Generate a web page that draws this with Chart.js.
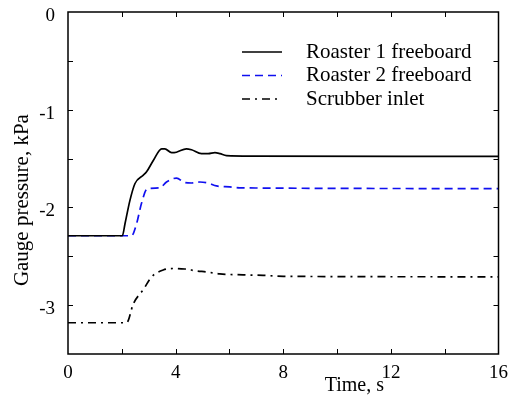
<!DOCTYPE html>
<html>
<head>
<meta charset="utf-8">
<script src="https://cdn.jsdelivr.net/npm/chart.js@4.4.1/dist/chart.umd.min.js"></script>
<style>
  html, body { margin: 0; padding: 0; background: #fff; }
  #wrap { width: 508px; height: 404px; }
</style>
</head>
<body>
<div id="wrap"><canvas id="chart" width="508" height="404"></canvas></div>
<script>
// series (time in s, gauge pressure in kPa)
const roaster1Time = [0, 2.02, 2.12, 2.3, 2.49, 2.8, 2.92, 3.17, 3.48, 3.6, 3.85, 4.03, 4.4, 4.59, 4.96, 5.21, 5.46, 5.65, 5.89, 6.88, 16]
const roaster1Pressure = [-2.29, -2.29, -2.165, -1.93, -1.755, -1.67, -1.636, -1.52, -1.4, -1.4, -1.44, -1.435, -1.4, -1.41, -1.45, -1.45, -1.44, -1.45, -1.47, -1.475, -1.478]

const roaster2Time = [0, 2.36, 2.55, 2.73, 2.94, 3.41, 3.66, 4.03, 4.34, 4.59, 4.9, 5.2, 5.52, 6.01, 6.38, 16]
const roaster2Pressure = [-2.29, -2.29, -2.165, -1.96, -1.81, -1.8, -1.74, -1.7, -1.745, -1.75, -1.74, -1.75, -1.78, -1.79, -1.8, -1.807]

const scrubberTime = [0, 2.18, 2.43, 2.8, 3.11, 3.54, 3.97, 4.34, 4.78, 5.15, 5.64, 6.51, 7.25, 8, 16]
const scrubberPressure = [-3.18, -3.18, -2.985, -2.84, -2.71, -2.64, -2.625, -2.63, -2.65, -2.66, -2.68, -2.69, -2.695, -2.705, -2.71]

const seriesLabels = ['Roaster 1 freeboard', 'Roaster 2 freeboard', 'Scrubber inlet']
const xTickLabels = [0, 4, 8, 12, 16]
const yTickLabels = [0, -1, -2, -3]

const toPoints = (xs, ys) => xs.map((x, i) => ({ x: x, y: ys[i] }))

const serif = 'Liberation Serif, Times New Roman, serif'

// box, inward ticks on all four sides, axis titles and the in-plot legend
const framePlugin = {
  id: 'frame',
  afterDraw(chart) {
    const { ctx, chartArea: a, scales } = chart
    const xs = scales.x, ys = scales.y
    const len = 5
    ctx.save()
    ctx.strokeStyle = '#000'
    ctx.lineWidth = 1.5
    ctx.strokeRect(a.left, a.top, a.right - a.left, a.bottom - a.top)
    ctx.lineWidth = 1
    ctx.beginPath()
    for (let v = 2; v < 16; v += 2) {
      const px = Math.round(xs.getPixelForValue(v)) + 0.5
      ctx.moveTo(px, a.bottom); ctx.lineTo(px, a.bottom - len)
      ctx.moveTo(px, a.top); ctx.lineTo(px, a.top + len)
    }
    for (let v = -3; v < 0; v += 0.5) {
      const py = Math.round(ys.getPixelForValue(v)) + 0.5
      ctx.moveTo(a.left, py); ctx.lineTo(a.left + len, py)
      ctx.moveTo(a.right, py); ctx.lineTo(a.right - len, py)
    }
    ctx.stroke()

    // axis titles
    ctx.fillStyle = '#000'
    ctx.font = '20px ' + serif
    ctx.textAlign = 'center'
    ctx.textBaseline = 'middle'
    ctx.fillText('Time, s', a.left + 0.665 * (a.right - a.left), a.bottom + 32)
    ctx.save()
    ctx.translate(22, a.top + 0.55 * (a.bottom - a.top))
    ctx.rotate(-Math.PI / 2)
    ctx.font = '21px ' + serif
    ctx.fillText('Gauge pressure, kPa', 0, 0)
    ctx.restore()

    // legend
    ctx.font = '21px ' + serif
    ctx.textAlign = 'left'
    chart.data.datasets.forEach((ds, i) => {
      const y = a.top + 40 + i * 23.5
      const x0 = a.left + 174
      ctx.strokeStyle = ds.borderColor
      ctx.lineWidth = ds.borderWidth
      ctx.setLineDash(ds.borderDash || [])
      ctx.beginPath()
      ctx.moveTo(x0, y); ctx.lineTo(x0 + 40, y)
      ctx.stroke()
      ctx.setLineDash([])
      ctx.fillText(ds.label, x0 + 64, y)
    })
    ctx.restore()
  }
}

new Chart(document.getElementById('chart'), {
  type: 'line',
  data: {
    datasets: [
      {
        label: seriesLabels[0],
        data: toPoints(roaster1Time, roaster1Pressure),
        borderColor: '#000',
        borderWidth: 1.7
      },
      {
        label: seriesLabels[1],
        data: toPoints(roaster2Time, roaster2Pressure),
        borderColor: '#1010f0',
        borderWidth: 1.7,
        borderDash: [8, 5]
      },
      {
        label: seriesLabels[2],
        data: toPoints(scrubberTime, scrubberPressure),
        borderColor: '#000',
        borderWidth: 1.7,
        borderDash: [8, 5, 2, 5]
      }
    ]
  },
  options: {
    responsive: false,
    animation: false,
    events: [],
    layout: { padding: { left: 0, right: 0, top: 0, bottom: 0 } },
    elements: {
      point: { radius: 0 },
      line: { cubicInterpolationMode: 'monotone', fill: false }
    },
    plugins: {
      legend: { display: false },
      tooltip: { enabled: false }
    },
    scales: {
      x: {
        type: 'linear',
        min: 0,
        max: 16,
        grid: { display: false },
        border: { display: false },
        afterFit: s => { s.height = 50 },
        ticks: {
          stepSize: 4,
          padding: 0,
          color: '#000',
          font: { family: serif, size: 19 },
          maxRotation: 0,
          callback: v => xTickLabels.includes(v) ? String(v) : ''
        }
      },
      y: {
        min: -3.5,
        max: 0,
        grid: { display: false },
        border: { display: false },
        afterFit: s => { s.width = 68; s.paddingTop = 12 },
        ticks: {
          stepSize: 1,
          padding: 5,
          labelOffset: 4,
          color: '#000',
          font: { family: serif, size: 19 },
          callback: v => yTickLabels.includes(v) ? String(v) : ''
        }
      }
    }
  },
  plugins: [framePlugin]
})
</script>
</body>
</html>
